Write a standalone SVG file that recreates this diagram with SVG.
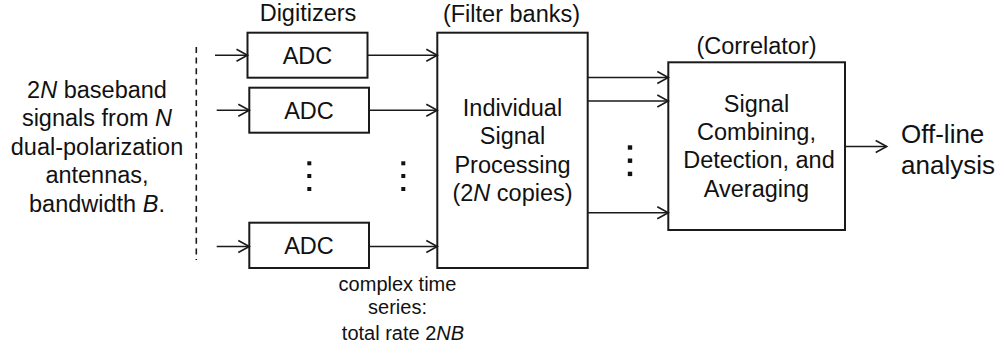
<svg xmlns="http://www.w3.org/2000/svg" width="995" height="345" viewBox="0 0 995 345">
  <style>
    text { font-family: "Liberation Sans", Arial, sans-serif; fill: #111; text-anchor: middle; }
    .main { font-size: 23.5px; }
    .small { font-size: 20px; }
    .big { font-size: 26px; text-anchor: start; }
    .box { fill: #fff; stroke: #1a1a1a; stroke-width: 2; }
    .wire { fill: none; stroke: #1a1a1a; stroke-width: 1.6; marker-end: url(#arr); }
    .dot { fill: #111; }
  </style>
  <defs>
    <marker id="arr" viewBox="-13 -8 15 16" markerWidth="15" markerHeight="16" refX="0" refY="0" orient="auto" markerUnits="userSpaceOnUse">
      <path d="M-11,-6 L0,0 L-11,6" fill="none" stroke="#1a1a1a" stroke-width="1.6"/>
    </marker>
  </defs>
  <rect width="995" height="345" fill="#fff"/>

  <!-- antenna inputs -->
  <g id="inputs">
    <text class="main" x="97" y="97.5">2<tspan font-style="italic">N</tspan> baseband</text>
    <text class="main" x="97" y="126">signals from <tspan font-style="italic">N</tspan></text>
    <text class="main" x="97" y="154.5">dual-polarization</text>
    <text class="main" x="97" y="183">antennas,</text>
    <text class="main" x="97" y="211.5">bandwidth <tspan font-style="italic">B</tspan>.</text>
    <line x1="196.3" y1="47" x2="196.3" y2="260" stroke="#1a1a1a" stroke-width="1.6" stroke-dasharray="6 4.6"/>
  </g>

  <!-- digitizers -->
  <g id="digitizers">
    <text class="main" x="308" y="20.7">Digitizers</text>
  </g>
  <g id="adc1">
    <rect class="box" x="247.5" y="32.7" width="120" height="45"/>
    <text class="main" x="307.5" y="64">ADC</text>
  </g>
  <g id="adc2">
    <rect class="box" x="249.3" y="87.7" width="119.7" height="45"/>
    <text class="main" x="309" y="119">ADC</text>
  </g>
  <g id="adc3">
    <rect class="box" x="249.3" y="222.7" width="119.7" height="45.3"/>
    <text class="main" x="309" y="254.3">ADC</text>
  </g>
  <g id="adc-ellipsis">
    <rect class="dot" x="307.3" y="161.3" width="4" height="4"/>
    <rect class="dot" x="307.3" y="174" width="4" height="4"/>
    <rect class="dot" x="307.3" y="187" width="4" height="4"/>
    <rect class="dot" x="401.3" y="161.3" width="4" height="4"/>
    <rect class="dot" x="401.3" y="174" width="4" height="4"/>
    <rect class="dot" x="401.3" y="187" width="4" height="4"/>
  </g>
  <g id="rate-label">
    <text class="small" x="397.5" y="290.7">complex time</text>
    <text class="small" x="397.5" y="313.5">series:</text>
    <text class="small" x="403" y="340">total rate 2<tspan font-style="italic">NB</tspan></text>
  </g>

  <!-- filter banks -->
  <g id="filterbank">
    <text class="main" x="511.5" y="21.5">(Filter banks)</text>
    <rect class="box" x="437.3" y="32.7" width="150.4" height="235.3"/>
    <text class="main" x="512.5" y="116">Individual</text>
    <text class="main" x="512.5" y="144.3">Signal</text>
    <text class="main" x="512.5" y="172.7">Processing</text>
    <text class="main" x="512.5" y="201">(2<tspan font-style="italic">N</tspan> copies)</text>
  </g>
  <g id="fb-ellipsis">
    <rect class="dot" x="627.8" y="145.3" width="4.4" height="4.4"/>
    <rect class="dot" x="627.8" y="158.5" width="4.4" height="4.4"/>
    <rect class="dot" x="627.8" y="171.7" width="4.4" height="4.4"/>
  </g>

  <!-- correlator -->
  <g id="correlator">
    <text class="main" x="756.5" y="54">(Correlator)</text>
    <rect class="box" x="668.3" y="62.3" width="176.7" height="167.7"/>
    <text class="main" x="756.5" y="111.7">Signal</text>
    <text class="main" x="756.5" y="140">Combining,</text>
    <text class="main" x="759" y="168.3">Detection, and</text>
    <text class="main" x="756.5" y="196.7">Averaging</text>
  </g>

  <g id="output">
    <text class="big" x="901" y="143.3">Off-line</text>
    <text class="big" x="901" y="174">analysis</text>
  </g>

  <!-- connectors -->
  <g id="connectors">
    <line class="wire" x1="215" y1="55.3" x2="247.5" y2="55.3"/>
    <line class="wire" x1="216.7" y1="110.2" x2="249.3" y2="110.2"/>
    <line class="wire" x1="216.7" y1="246.5" x2="249.3" y2="246.5"/>
    <line class="wire" x1="367.5" y1="55.3" x2="437.3" y2="55.3"/>
    <line class="wire" x1="369" y1="110.2" x2="437.3" y2="110.2"/>
    <line class="wire" x1="369" y1="246.5" x2="437.3" y2="246.5"/>
    <line class="wire" x1="587.7" y1="77.5" x2="668.3" y2="77.5"/>
    <line class="wire" x1="587.7" y1="101" x2="668.3" y2="101"/>
    <line class="wire" x1="587.7" y1="212.7" x2="668.3" y2="212.7"/>
    <line class="wire" x1="845" y1="146.5" x2="886.7" y2="146.5"/>
  </g>
</svg>
